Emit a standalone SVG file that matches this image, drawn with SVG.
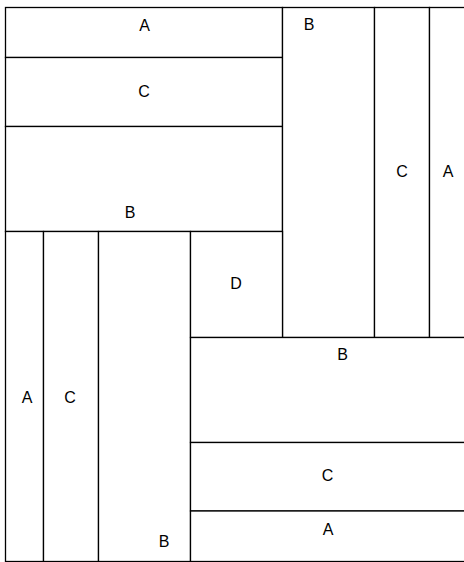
<svg xmlns="http://www.w3.org/2000/svg" width="464" height="562" viewBox="0 0 464 562">
<style>
.c{fill:#fff;stroke:#000;stroke-width:1.3}
text{font-family:"Liberation Sans",Arial,sans-serif;font-size:16px;text-anchor:middle;fill:#000}
</style>
<rect width="464" height="562" fill="#fff"/>
<g id="n1"><rect class="c" x="5.5" y="7.5" width="277" height="50"/><text x="144.5" y="30.7">A</text></g>
<g id="n2"><rect class="c" x="5.5" y="57.5" width="277" height="69"/><text x="144" y="96.7">C</text></g>
<g id="n3"><rect class="c" x="5.5" y="126.5" width="277" height="105"/><text x="130" y="218.2">B</text></g>
<g id="n4"><rect class="c" x="282.5" y="7.5" width="92" height="330"/><text x="309" y="30.2">B</text></g>
<g id="n5"><rect class="c" x="374.5" y="7.5" width="55" height="330"/><text x="402" y="177">C</text></g>
<g id="n6"><rect class="c" x="429.5" y="7.5" width="40" height="330"/><text x="448" y="177">A</text></g>
<g id="n7"><rect class="c" x="5.5" y="231.5" width="38" height="330"/><text x="27" y="403">A</text></g>
<g id="n8"><rect class="c" x="43.5" y="231.5" width="55" height="330"/><text x="70" y="403">C</text></g>
<g id="n9"><rect class="c" x="98.5" y="231.5" width="92" height="330"/><text x="164" y="546.7">B</text></g>
<g id="n10"><rect class="c" x="190.5" y="231.5" width="92" height="106"/><text x="236" y="288.7">D</text></g>
<g id="n11"><rect class="c" x="190.5" y="337.5" width="279" height="105"/><text x="342.5" y="359.7">B</text></g>
<g id="n12"><rect class="c" x="190.5" y="442.5" width="279" height="68.5"/><text x="327.5" y="481.2">C</text></g>
<g id="n13"><rect class="c" x="190.5" y="511" width="279" height="50.5"/><text x="328" y="535.2">A</text></g>
<g id="connectors"/>
</svg>
